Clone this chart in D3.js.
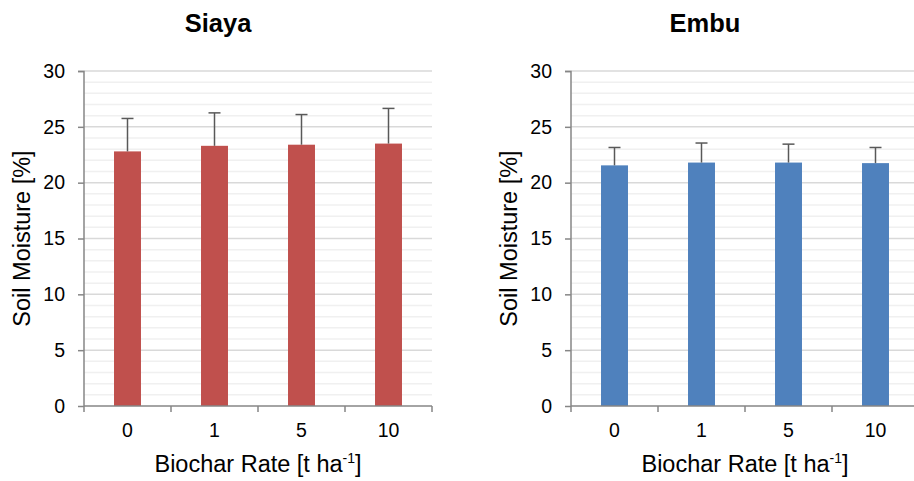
<!DOCTYPE html>
<html>
<head>
<meta charset="utf-8">
<script src="https://cdn.jsdelivr.net/npm/d3@7"></script>
<style>
  body { margin: 0; background: #fff; }
  text { font-family: "Liberation Sans", Arial, sans-serif; fill: #000; }
</style>
</head>
<body>
<svg width="914" height="481"></svg>
<script>
// Data
const rates = ["0", "1", "5", "10"];
const siayaMean = [22.8, 23.3, 23.4, 23.5];
const siayaErr = [2.95, 2.95, 2.7, 3.15];
const embuMean = [21.55, 21.8, 21.8, 21.75];
const embuErr = [1.6, 1.75, 1.65, 1.4];
const yTicks = [0, 5, 10, 15, 20, 25, 30];

const svg = d3.select("svg");

function drawPanel(opts) {
  const left = opts.left, top = 71, plotH = 335, plotW = 348;
  const g = svg.append("g").attr("transform", `translate(${left},${top})`);

  const x = d3.scaleBand().domain(rates).range([0, plotW]).paddingInner(0.69).paddingOuter(0.345);
  const y = d3.scaleLinear().domain([0, 30]).range([plotH, 0]);

  // minor gridlines
  g.selectAll(".minor")
    .data(d3.range(1, 31).filter(v => v % 5 !== 0))
    .join("line")
    .attr("x1", 0).attr("x2", plotW)
    .attr("y1", d => y(d)).attr("y2", d => y(d))
    .attr("stroke", "#f0f0f0").attr("stroke-width", 1.5);

  // major gridlines
  g.selectAll(".major")
    .data(yTicks.filter(v => v > 0))
    .join("line")
    .attr("x1", 0).attr("x2", plotW)
    .attr("y1", d => y(d)).attr("y2", d => y(d))
    .attr("stroke", "#d9d9d9").attr("stroke-width", 1.5);

  // bars
  g.selectAll("rect")
    .data(opts.mean)
    .join("rect")
    .attr("x", (d, i) => x(rates[i]))
    .attr("width", x.bandwidth())
    .attr("y", d => y(d))
    .attr("height", d => plotH - y(d))
    .attr("fill", opts.color);

  // error bars
  const eb = g.selectAll(".err")
    .data(opts.mean.map((m, i) => ({ m, e: opts.err[i], c: rates[i] })))
    .join("g");
  eb.append("line")
    .attr("x1", d => x(d.c) + x.bandwidth() / 2).attr("x2", d => x(d.c) + x.bandwidth() / 2)
    .attr("y1", d => y(d.m)).attr("y2", d => y(d.m + d.e))
    .attr("stroke", "#595959").attr("stroke-width", 1.5);
  eb.append("line")
    .attr("x1", d => x(d.c) + x.bandwidth() / 2 - 6).attr("x2", d => x(d.c) + x.bandwidth() / 2 + 6)
    .attr("y1", d => y(d.m + d.e)).attr("y2", d => y(d.m + d.e))
    .attr("stroke", "#595959").attr("stroke-width", 1.5);

  // y axis
  const yAxis = g.append("g")
    .call(d3.axisLeft(y).tickValues(yTicks).tickSize(6).tickPadding(13));
  yAxis.select(".domain").attr("stroke", "#868686").attr("stroke-width", 1.5).attr("d", `M-6,0.5H0V${plotH}`);
  yAxis.selectAll(".tick line").attr("stroke", "#868686").attr("stroke-width", 1.5);
  yAxis.selectAll(".tick text").attr("font-size", 19.5).attr("fill", "#000")
    .style("font-family", "Liberation Sans, Arial, sans-serif");

  // x axis
  const boundaries = d3.range(0, 5).map(i => i * plotW / 4);
  g.append("line")
    .attr("x1", 0).attr("x2", plotW).attr("y1", plotH).attr("y2", plotH)
    .attr("stroke", "#868686").attr("stroke-width", 1.5);
  g.selectAll(".xt")
    .data(boundaries)
    .join("line")
    .attr("x1", d => d).attr("x2", d => d)
    .attr("y1", plotH).attr("y2", plotH + 6)
    .attr("stroke", "#868686").attr("stroke-width", 1.5);
  g.selectAll(".xl")
    .data(rates)
    .join("text")
    .attr("x", d => x(d) + x.bandwidth() / 2)
    .attr("y", 437 - top)
    .attr("text-anchor", "middle")
    .attr("font-size", 19.5)
    .text(d => d);

  // titles
  g.append("text")
    .attr("x", 134).attr("y", 32 - top)
    .attr("text-anchor", "middle")
    .attr("font-size", 25.5).attr("font-weight", "bold")
    .text(opts.title);

  const xt = g.append("text")
    .attr("x", plotW / 2).attr("y", 472 - top)
    .attr("text-anchor", "middle")
    .attr("font-size", 23.5);
  xt.append("tspan").text("Biochar Rate [t ha");
  xt.append("tspan").attr("dy", -9).attr("font-size", 14).text("-1");
  xt.append("tspan").attr("dy", 9).text("]");

  g.append("text")
    .attr("transform", `translate(-54,${plotH / 2}) rotate(-90)`)
    .attr("text-anchor", "middle")
    .attr("font-size", 23.5)
    .text("Soil Moisture [%]");
}

drawPanel({ left: 84, title: "Siaya", mean: siayaMean, err: siayaErr, color: "#c0504d" });
drawPanel({ left: 571, title: "Embu", mean: embuMean, err: embuErr, color: "#4f81bd" });
</script>
</body>
</html>
